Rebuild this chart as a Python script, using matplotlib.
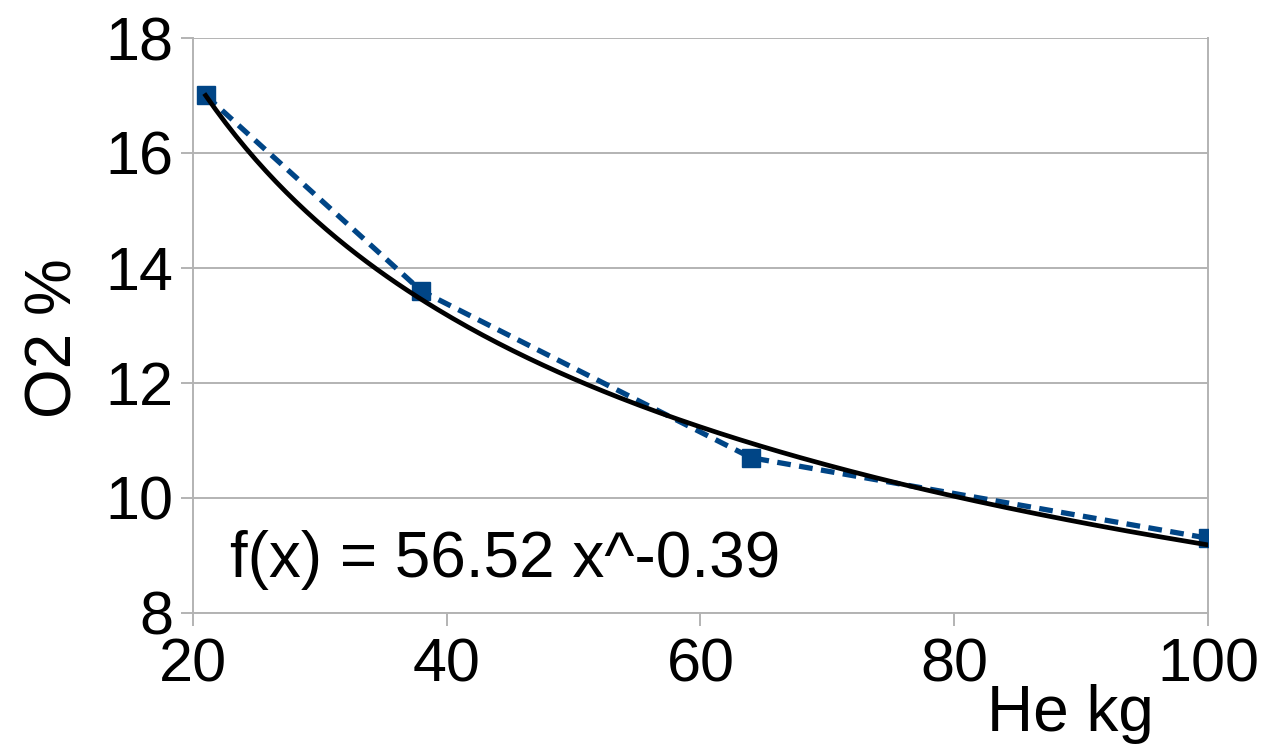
import numpy as np
import matplotlib.pyplot as plt

plt.rcParams['font.family'] = ['Liberation Sans', 'DejaVu Sans']

# data
he_kg = np.array([21, 38, 64, 100])
o2_pct = np.array([17.0, 13.6, 10.7, 9.3])
x_ticks = [20, 40, 60, 80, 100]
y_ticks = [8, 10, 12, 14, 16, 18]
eq_text = 'f(x) = 56.52 x^-0.39'

# power trend line fitted on the points (log-log least squares)
b, ln_a = np.polyfit(np.log(he_kg), np.log(o2_pct), 1)
xs = np.linspace(he_kg.min(), he_kg.max(), 200)
ys = np.exp(ln_a) * xs ** b

fig = plt.figure(figsize=(12.67, 7.51), dpi=100)
ax = fig.add_axes([0.1523, 0.1838, 0.8011, 0.7656])

blue = '#004586'
grid_c = '#b3b3b3'

ax.plot(he_kg, o2_pct, color=blue, lw=3.8, ls=(0, (2.6, 1.6)),
        marker='s', ms=13, zorder=3)
ax.plot(xs, ys, color='black', lw=3.4, zorder=4)

ax.set_xlim(20, 100)
ax.set_ylim(8, 18)
ax.set_xticks(x_ticks)
ax.set_yticks(y_ticks)
ax.yaxis.grid(True, color=grid_c, lw=1.4)
ax.set_axisbelow(True)
for s in ['left', 'bottom', 'right']:
    ax.spines[s].set_color(grid_c)
    ax.spines[s].set_linewidth(1.4)
ax.spines['top'].set_visible(False)
ax.tick_params(axis='both', length=9, width=1.4, color=grid_c, labelsize=44)
ax.tick_params(axis='x', pad=9)
ax.tick_params(axis='y', pad=5)

fig.text(230 / 1267, 1 - 560 / 751, eq_text, fontsize=46,
         ha='left', va='center')
fig.text(55 / 1267, 1 - 338 / 751, 'O2 %', rotation=90, fontsize=46,
         ha='center', va='center')
fig.text(1070 / 1267, 1 - 714 / 751, 'He kg', fontsize=46,
         ha='center', va='center')

fig.savefig('out.png', dpi=100)
